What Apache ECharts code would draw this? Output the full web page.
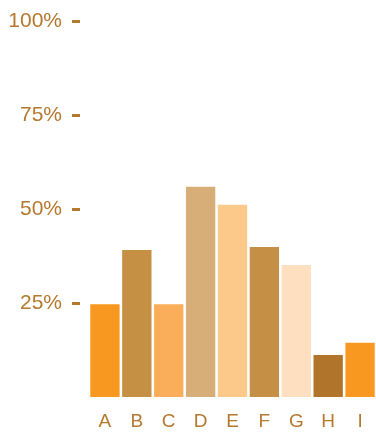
<!DOCTYPE html>
<html>
<head>
<meta charset="utf-8">
<script src="https://cdn.jsdelivr.net/npm/echarts@6/dist/echarts.min.js"></script>
<style>
  html, body { margin: 0; padding: 0; background: #fff; }
  #chart { width: 376px; height: 435px; }
</style>
</head>
<body>
<div id="chart"></div>
<script>
var categories = ['A', 'B', 'C', 'D', 'E', 'F', 'G', 'H', 'I'];
var values = [24.7, 39.1, 24.7, 55.9, 51.1, 39.9, 35.1, 11.2, 14.4];
var barColors = ['#f89820', '#c58f44', '#fbae59', '#d8ae78', '#fdc98a', '#c59046', '#fee0c0', '#b0742a', '#f89820'];
var yTicks = [25, 50, 75, 100];

var labelColor = '#b5782f';

var myChart = echarts.init(document.getElementById('chart'));

var option = {
    animation: false,
    grid: {
        left: 89,
        right: 0,
        top: 21,
        bottom: 38,
        containLabel: false
    },
    xAxis: {
        type: 'category',
        data: categories,
        axisLine: { show: false },
        axisTick: { show: false },
        axisLabel: {
            color: labelColor,
            fontSize: 19,
            fontFamily: 'Liberation Sans, Arial, sans-serif',
            margin: 15
        }
    },
    yAxis: {
        type: 'value',
        min: 0,
        max: 100,
        interval: 25,
        offset: 9,
        splitLine: { show: false },
        axisLine: { show: false },
        axisTick: {
            show: true,
            length: 8,
            customValues: yTicks,
            lineStyle: { color: labelColor, width: 3 }
        },
        axisLabel: {
            color: labelColor,
            fontSize: 21,
            fontFamily: 'Liberation Sans, Arial, sans-serif',
            margin: 18,
            customValues: yTicks,
            formatter: '{value}%'
        }
    },
    series: [{
        type: 'bar',
        barCategoryGap: '8%',
        data: values.map(function (v, i) {
            return { value: v, itemStyle: { color: barColors[i] } };
        })
    }]
};

myChart.setOption(option);
</script>
</body>
</html>
